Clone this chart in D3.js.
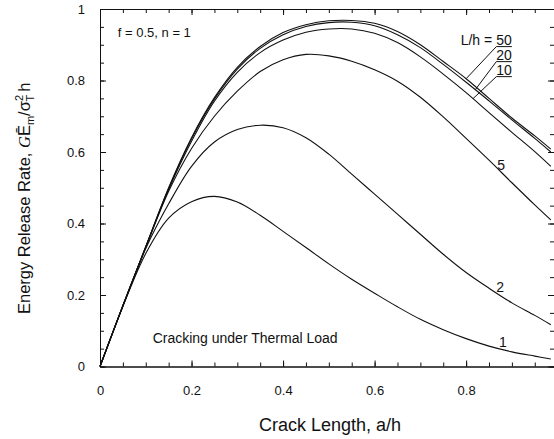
<!DOCTYPE html>
<html>
<head>
<meta charset="utf-8">
<script src="https://cdn.jsdelivr.net/npm/d3@7"></script>
<style>
  body { margin: 0; background: #fff; }
  svg { display: block; font-family: "Liberation Sans", Arial, Helvetica, sans-serif; }
  .axis path, .axis line { stroke: #111; stroke-width: 1; }
  .axis text { font-size: 13px; fill: #111; font-family: "Liberation Sans", Arial, sans-serif; }
</style>
</head>
<body>
<div id="chart"></div>
<script>
// crack length a/h (shared grid for all curves)
const crackLength = [0, 0.05, 0.1, 0.15, 0.2, 0.25, 0.3, 0.35, 0.4, 0.45, 0.5,
                     0.55, 0.6, 0.65, 0.7, 0.75, 0.8, 0.85, 0.9, 0.95, 0.985];

// energy release rate for each L/h
const gL1  = [0, 0.168, 0.316, 0.415, 0.461, 0.476, 0.46, 0.423, 0.378, 0.333, 0.287,
              0.244, 0.205, 0.167, 0.132, 0.103, 0.078, 0.057, 0.041, 0.029, 0.021];
const gL2  = [0, 0.17, 0.33, 0.455, 0.56, 0.628, 0.663, 0.675, 0.668, 0.64, 0.594,
              0.538, 0.482, 0.426, 0.37, 0.314, 0.263, 0.219, 0.178, 0.143, 0.117];
const gL5  = [0, 0.17, 0.333, 0.49, 0.61, 0.70, 0.77, 0.825, 0.858, 0.873, 0.869,
              0.854, 0.83, 0.798, 0.753, 0.698, 0.638, 0.577, 0.514, 0.452, 0.41];
const gL10 = [0, 0.17, 0.335, 0.495, 0.63, 0.742, 0.823, 0.878, 0.913, 0.935, 0.944,
              0.944, 0.932, 0.906, 0.866, 0.818, 0.766, 0.71, 0.655, 0.601, 0.56];
const gL20 = [0, 0.17, 0.335, 0.498, 0.637, 0.748, 0.832, 0.89, 0.928, 0.951, 0.962,
              0.963, 0.953, 0.928, 0.892, 0.845, 0.795, 0.743, 0.69, 0.638, 0.6];
const gL50 = [0, 0.17, 0.335, 0.5, 0.64, 0.752, 0.837, 0.895, 0.934, 0.956, 0.967,
              0.968, 0.96, 0.937, 0.9, 0.853, 0.805, 0.75, 0.695, 0.645, 0.608];

const ratios = ["1", "2", "5", "10", "20", "50"];
const seriesValues = [gL1, gL2, gL5, gL10, gL20, gL50];

const xTicks = [0, 0.2, 0.4, 0.6, 0.8];
const yTicks = [0, 0.2, 0.4, 0.6, 0.8, 1];
const xMinor = d3.range(0, 0.96, 0.05);
const yMinor = d3.range(0, 1.01, 0.05);

const width = 554, height = 439;
const xMax = 0.992;

const svg = d3.select("#chart").append("svg")
    .attr("width", width)
    .attr("height", height);

const x = d3.scaleLinear().domain([0, xMax]).range([100, 554]);
const y = d3.scaleLinear().domain([0, 1]).range([366.5, 9]);

// axes: ticks point inward on all four sides
function addAxis(axis, transform, size, labels) {
    const g = svg.append("g").attr("class", "axis").attr("transform", transform)
        .call(axis.tickSize(size).tickSizeOuter(0));
    if (!labels) g.selectAll("text").remove();
    return g;
}

addAxis(d3.axisBottom(x).tickValues(xMinor), `translate(0,${y(0)})`, -4, false);
addAxis(d3.axisBottom(x).tickValues(xTicks).tickPadding(19).tickFormat(d => String(d)),
        `translate(0,${y(0)})`, -6, true);
addAxis(d3.axisTop(x).tickValues(xMinor), `translate(0,${y(1)})`, -4, false);
addAxis(d3.axisTop(x).tickValues(xTicks), `translate(0,${y(1)})`, -6, false);

addAxis(d3.axisLeft(y).tickValues(yMinor), `translate(${x(0)},0)`, -4, false);
addAxis(d3.axisLeft(y).tickValues(yTicks).tickPadding(15).tickFormat(d => String(d)),
        `translate(${x(0)},0)`, -6, true);
addAxis(d3.axisRight(y).tickValues(yMinor), `translate(${x(xMax)},0)`, -4, false)
    .select(".domain").remove();
addAxis(d3.axisRight(y).tickValues(yTicks), `translate(${x(xMax)},0)`, -6, false)
    .select(".domain").remove();

// curves
const line = d3.line()
    .x((d, i) => x(crackLength[i]))
    .y(d => y(d))
    .curve(d3.curveCatmullRom.alpha(0.5));

svg.append("g").selectAll("path")
    .data(seriesValues)
    .enter()
    .append("path")
    .attr("d", line)
    .attr("fill", "none")
    .attr("stroke", "#111")
    .attr("stroke-width", 1.1);

// linear lookup of a series at crack length a
function valueAt(series, a) {
    const i = d3.bisectLeft(crackLength, a);
    const t = (a - crackLength[i - 1]) / (crackLength[i] - crackLength[i - 1]);
    return series[i - 1] + t * (series[i] - series[i - 1]);
}

// plain curve labels (1, 2, 5)
const plainLabels = [
    { k: 0, a: 0.872, g: 0.055 },
    { k: 1, a: 0.866, g: 0.207 },
    { k: 2, a: 0.868, g: 0.551 }
];
svg.append("g").selectAll("text")
    .data(plainLabels)
    .enter()
    .append("text")
    .attr("x", d => x(d.a))
    .attr("y", d => y(d.g))
    .attr("font-size", 14)
    .attr("fill", "#111")
    .text(d => ratios[d.k]);

// underlined labels with leader lines (10, 20, 50)
const leaderLabels = [
    { k: 5, a: 0.866, g: 0.899, target: 0.80 },
    { k: 4, a: 0.866, g: 0.857, target: 0.82 },
    { k: 3, a: 0.866, g: 0.815, target: 0.815 }
];
svg.append("text")
    .attr("x", x(0.857))
    .attr("y", y(0.899))
    .attr("text-anchor", "end")
    .attr("font-size", 14)
    .attr("fill", "#111")
    .text("L/h =");

const lg = svg.append("g").selectAll("g")
    .data(leaderLabels)
    .enter()
    .append("g");
lg.append("text")
    .attr("x", d => x(d.a))
    .attr("y", d => y(d.g))
    .attr("font-size", 14)
    .attr("fill", "#111")
    .text(d => ratios[d.k]);
lg.append("line")
    .attr("x1", d => x(d.a))
    .attr("x2", d => x(d.a) + 15.5)
    .attr("y1", d => y(d.g) + 1.5)
    .attr("y2", d => y(d.g) + 1.5)
    .attr("stroke", "#111");
lg.append("line")
    .attr("x1", d => x(d.a))
    .attr("y1", d => y(d.g) + 1.5)
    .attr("x2", d => x(d.target))
    .attr("y2", d => y(valueAt(seriesValues[d.k], d.target)))
    .attr("stroke", "#111");

// annotations
svg.append("text")
    .attr("x", x(0.039))
    .attr("y", y(0.922))
    .attr("font-size", 13)
    .attr("fill", "#111")
    .text("f = 0.5, n = 1");

svg.append("text")
    .attr("x", x(0.115))
    .attr("y", y(0.066))
    .attr("font-size", 14)
    .attr("fill", "#111")
    .text("Cracking under Thermal Load");

// axis titles
svg.append("text")
    .attr("x", 330)
    .attr("y", 431)
    .attr("text-anchor", "middle")
    .attr("font-size", 18)
    .attr("fill", "#111")
    .text("Crack Length, a/h");

const yt = svg.append("text")
    .attr("transform", "translate(30,314) rotate(-90)")
    .attr("text-anchor", "start")
    .attr("font-size", 16.5)
    .attr("fill", "#111");
yt.append("tspan").text("Energy Release Rate, ");
yt.append("tspan").attr("font-family", "'Liberation Serif', serif").attr("font-style", "italic").text("G");
yt.append("tspan").text("Ē");
yt.append("tspan").attr("font-size", 11).attr("dy", 4).text("m");
yt.append("tspan").attr("dy", -4).text("/σ");
yt.append("tspan").attr("font-size", 11).attr("dy", -7).text("2");
yt.append("tspan").attr("font-size", 11).attr("dx", -6.5).attr("dy", 11).text("T");
yt.append("tspan").attr("dy", -4).attr("dx", 3).text("h");
</script>
</body>
</html>
